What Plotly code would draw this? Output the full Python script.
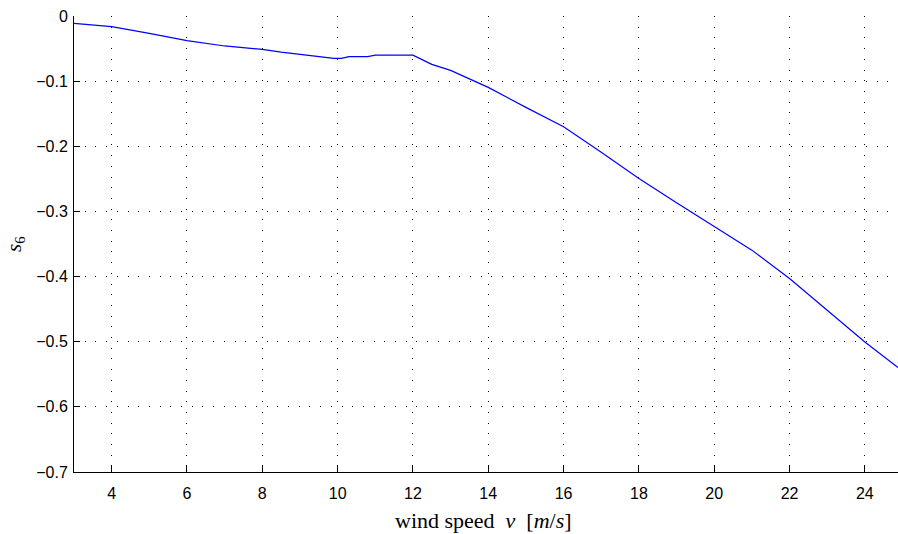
import plotly.graph_objects as go

# wind speed [m/s] and the corresponding s6 values
wind_speed = [3.0, 3.5, 4.0, 5.0, 6.0, 7.0, 8.0, 8.5, 9.0, 9.5, 9.9, 10.1, 10.3,
              10.8, 11.0, 12.0, 12.5, 13.0, 13.5, 14.0, 15.0, 16.0, 17.0, 18.0,
              19.0, 20.0, 21.0, 22.0, 23.0, 24.0, 24.88]
s6 = [-0.0113, -0.0135, -0.0164, -0.0266, -0.0379, -0.0460, -0.0512, -0.0555,
      -0.0590, -0.0625, -0.0650, -0.0650, -0.0625, -0.0625, -0.0600, -0.0600,
      -0.0742, -0.0835, -0.0960, -0.1096, -0.1403, -0.1700, -0.2090, -0.2494,
      -0.2867, -0.3226, -0.3594, -0.4030, -0.4516, -0.5003, -0.5397]

x_ticks = [4, 6, 8, 10, 12, 14, 16, 18, 20, 22, 24]
y_ticks = [0, -0.1, -0.2, -0.3, -0.4, -0.5, -0.6, -0.7]
y_tick_text = ["0" if v == 0 else f"\u2212{abs(v):.1f}" for v in y_ticks]

W, H = 898, 534
L, R, T, B = 74, 0, 16, 62

fig = go.Figure()
fig.add_trace(go.Scatter(x=wind_speed, y=s6, mode="lines",
                         line=dict(color="#0000ff", width=1.2),
                         showlegend=False, hoverinfo="skip"))

tick_font = dict(family="Liberation Sans, Arial, sans-serif", size=16, color="black")
common = dict(showgrid=True, gridcolor="black", gridwidth=1, griddash="1px,9.7px",
              zeroline=False, showline=True, linecolor="black", linewidth=1,
              ticks="inside", ticklen=6, tickcolor="black", tickwidth=1,
              tickfont=tick_font)

fig.update_xaxes(range=[3, 24.88], tickvals=x_ticks, ticklabelstandoff=7, **common)
fig.update_yaxes(range=[-0.7, 0], tickvals=y_ticks, ticktext=y_tick_text,
                 ticklabelstandoff=2, **common)

serif = dict(family="Liberation Serif, Times New Roman, serif", size=22, color="black")
fig.add_annotation(text="wind speed\u2002<i>v</i>\u2002[<i>m</i>/<i>s</i>]",
                   xref="paper", yref="paper",
                   x=(483 - L) / (W - L - R), y=-(520 - (H - B)) / (H - T - B),
                   xanchor="center", yanchor="middle", showarrow=False, font=serif)
fig.add_annotation(text="<i>s</i><sub>6</sub>", xref="paper", yref="paper",
                   x=-(L - 15) / (W - L - R), y=1 - (244 - T) / (H - T - B),
                   xanchor="center", yanchor="middle", showarrow=False,
                   textangle=-90, font=dict(serif, size=21))

fig.update_layout(width=W, height=H, margin=dict(l=L, r=R, t=T, b=B),
                  plot_bgcolor="white", paper_bgcolor="white")

fig.write_html("out.html")
